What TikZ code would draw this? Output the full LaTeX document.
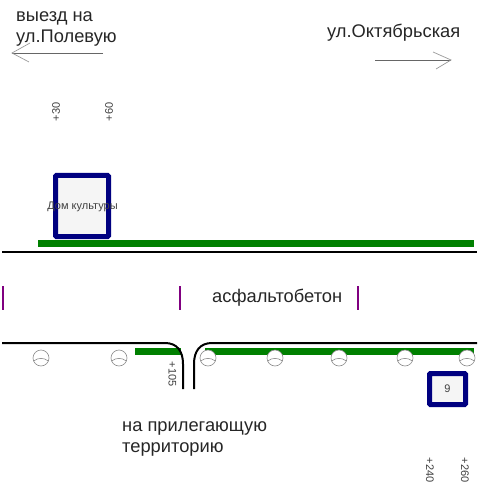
\documentclass[tikz,border=0pt]{standalone}
\usepackage{fontspec}
\setmainfont{Liberation Sans}
\definecolor{roadgreen}{HTML}{008000}
\definecolor{navybox}{HTML}{000080}
\definecolor{tickpurple}{HTML}{800080}
\tikzset{
  big/.style={font=\fontsize{18.3}{20}\selectfont,text=black!85,inner sep=0pt,anchor=west},
  small/.style={font=\fontsize{11}{13}\selectfont,text=black!75,inner sep=0pt},
  kerb/.style={draw=black,line width=2pt},
  green strip/.style={draw=roadgreen,line width=7pt},
  thin arrow/.style={draw=black!60,line width=.7pt},
  barb/.style={draw=black!40,line width=.7pt},
  building/.style={draw=navybox,fill=black!4,line width=5pt,rounded corners=1pt},
  lamp/.style={draw=black!45,fill=white,line width=.6pt},
  tick/.style={draw=tickpurple,line width=2pt}
}
\begin{document}
\begin{tikzpicture}[x=1pt,y=-1pt]
\useasboundingbox (0,0) rectangle (477,486);
% texts top
\node[big] (t1) at (16,18) {выезд на};
\node[big] (t2) at (16,38.5) {ул.Полевую};
\node[big] (t3) at (327,32.5) {ул.Октябрьская};
% arrows
\coordinate (la) at (103,53); \coordinate (lb) at (12,53);
\coordinate (ra) at (375,60); \coordinate (rb) at (451,60);
\draw[thin arrow] (la) -- (lb);
\draw[barb] (30,43) -- (lb) -- (29,62);
\draw[thin arrow] (ra) -- (rb);
\draw[barb] (433,52) -- (rb) -- (436,69);
% chainage
\node[small,rotate=90] (p30) at (56,112) {+30};
\node[small,rotate=90] (p60) at (109,112) {+60};
\node[small,rotate=-90] (p105) at (172.5,374) {+105};
\node[small,rotate=-90] (p240) at (430,470) {+240};
\node[small,rotate=-90] (p260) at (465,470) {+260};
% building
\draw[building] (55.5,175.5) rectangle (108.5,236.5);
\node[small] (dk) at (82.5,207) {Дом культуры};
% upper road
\draw[green strip] (38,243.5) -- (474,243.5);
\draw[kerb] (2,252) -- (477,252);
% ticks
\draw[tick] (3,286) -- (3,310);
\draw[tick] (180,286) -- (180,310);
\draw[tick] (358,286) -- (358,310);
\node[big] (asf) at (212,298) {асфальтобетон};
% green lower
\draw[green strip] (135,351.5) -- (181,351.5);
\draw[green strip] (205,351.5) -- (474,351.5);
% kerbs lower
\draw[kerb] (2,343) -- (165,343) .. controls (177,343) and (183,351) .. (183,364) -- (183,389);
\draw[kerb] (477,343) -- (212,343) .. controls (200,343) and (194,351) .. (194,364) -- (194,389);
% lamps
\foreach \x in {41,119,208,275,339,405,467}{
  \draw[lamp] (\x,358) circle (8);
  \draw[lamp] (\x-7.3,361) .. controls (\x-3,357.5) and (\x+3,357.5) .. (\x+7.3,361);
}
% box 9
\draw[building] (429.5,373.5) rectangle (465.5,404.5);
\node[small] (nine) at (447.5,389) {9};
% lower text
\node[big] (t4) at (122,428.5) {на прилегающую};
\node[big] (t5) at (122,449.5) {территорию};
\end{tikzpicture}
\end{document}
